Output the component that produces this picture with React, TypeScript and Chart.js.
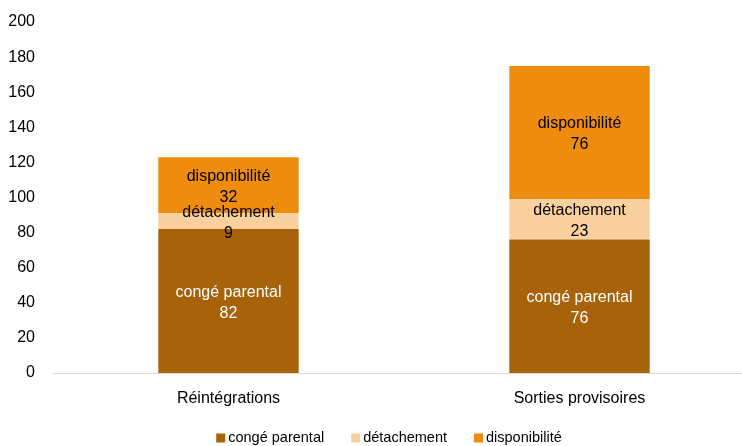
import React, { useEffect, useRef } from "react";
import { Chart, registerables } from "chart.js";

Chart.register(...registerables);

const categories = ["Réintégrations", "Sorties provisoires"];
const congeParental = [82, 76];
const detachement = [9, 23];
const disponibilite = [32, 76];
const seriesNames = ["congé parental", "détachement", "disponibilité"];
const seriesColors = ["#A8620A", "#F9D09E", "#EE8C0F"];
const labelColors = ["#FFFFFF", "#000000", "#000000"];
const yTicks = { min: 0, max: 200, step: 20 };

const FONT = "'Liberation Sans', Arial, sans-serif";

const labelPlugin = {
  id: "segLabels",
  afterDatasetsDraw(chart: any) {
    const ctx = chart.ctx;
    ctx.save();
    ctx.font = `16px ${FONT}`;
    ctx.textAlign = "center";
    ctx.textBaseline = "middle";
    chart.data.datasets.forEach((ds: any, di: number) => {
      const meta = chart.getDatasetMeta(di);
      meta.data.forEach((el: any, i: number) => {
        const p = el.getProps(["x", "y", "base"], true);
        const cy = (p.y + p.base) / 2 + 2;
        ctx.fillStyle = labelColors[di];
        ctx.fillText(ds.label, p.x, cy - 10.5);
        ctx.fillText(String(ds.data[i]), p.x, cy + 10.5);
      });
    });
    ctx.restore();
  },
};

const legendPlugin = {
  id: "customLegend",
  afterDraw(chart: any) {
    const ctx = chart.ctx;
    ctx.save();
    ctx.font = `14.5px ${FONT}`;
    ctx.textBaseline = "middle";
    ctx.textAlign = "left";
    const box = 9;
    const gap = 3;
    const itemGap = 27;
    const widths = seriesNames.map((n) => box + gap + ctx.measureText(n).width);
    const total = widths.reduce((a, b) => a + b, 0) + itemGap * (seriesNames.length - 1);
    let x = 389 - total / 2;
    const y = 438;
    seriesNames.forEach((n, i) => {
      ctx.fillStyle = seriesColors[i];
      ctx.fillRect(x, y - box / 2, box, box);
      ctx.fillStyle = "#000000";
      ctx.fillText(n, x + box + gap, y);
      x += widths[i] + itemGap;
    });
    ctx.restore();
  },
};

export default function App() {
  const ref = useRef<HTMLCanvasElement>(null);
  useEffect(() => {
    if (!ref.current) return;
    const chart = new Chart(ref.current, {
      type: "bar",
      data: {
        labels: categories,
        datasets: [
          { label: seriesNames[0], data: congeParental, backgroundColor: seriesColors[0] },
          { label: seriesNames[1], data: detachement, backgroundColor: seriesColors[1] },
          { label: seriesNames[2], data: disponibilite, backgroundColor: seriesColors[2] },
        ],
      },
      options: {
        responsive: false,
        animation: false,
        maintainAspectRatio: false,
        layout: { padding: { top: 22, left: 0, right: 0, bottom: 0 } },
        datasets: { bar: { barPercentage: 0.4, categoryPercentage: 1 } },
        plugins: {
          legend: { display: false },
          tooltip: { enabled: false },
          title: { display: false },
        },
        scales: {
          x: {
            stacked: true,
            grid: { display: false, drawTicks: false },
            border: { display: true, color: "#D9D9D9", width: 1 },
            ticks: { color: "#000000", font: { family: FONT, size: 16 }, padding: 16 },
            afterFit: (s: any) => {
              s.height = 73;
              s.paddingLeft = 0;
              s.paddingRight = 0;
            },
          },
          y: {
            stacked: true,
            min: yTicks.min,
            max: yTicks.max,
            grid: { display: false, drawTicks: false },
            border: { display: false },
            ticks: {
              stepSize: yTicks.step,
              color: "#000000",
              font: { family: FONT, size: 16 },
              padding: 18,
            },
            afterFit: (s: any) => {
              s.width = 53;
              s.paddingTop = 0;
              s.paddingBottom = 0;
            },
          },
        },
      },
      plugins: [labelPlugin, legendPlugin],
    });
    return () => chart.destroy();
  }, []);
  return (
    <div
      style={{
        position: "absolute",
        left: 0,
        top: 0,
        width: 742,
        height: 446,
        overflow: "hidden",
        background: "#FFFFFF",
      }}
    >
      <canvas ref={ref} width={755} height={446} style={{ width: 755, height: 446, display: "block" }} />
    </div>
  );
}
